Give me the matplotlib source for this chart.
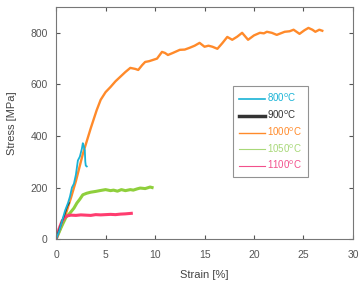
import numpy as np
import matplotlib.pyplot as plt

plt.rcParams['font.family'] = ['Liberation Sans', 'DejaVu Sans']

# strain [%] / stress [MPa]
strain_800 = [0, 0.3, 0.6, 0.9, 1.2, 1.4, 1.6, 1.8, 2.0, 2.2, 2.4, 2.6, 2.7, 2.8, 2.85, 2.9, 2.95, 3.0, 3.1]
stress_800 = [0, 30, 70, 110, 140, 165, 200, 215, 250, 305, 320, 350, 372, 360, 350, 345, 300, 285, 282]

strain_900 = [0, 0.3, 0.6, 0.9, 1.1, 1.3]
stress_900 = [0, 35, 70, 100, 125, 140]

strain_1000 = [0, 0.5, 1.0, 1.5, 2.0, 2.5, 2.7, 3.1, 3.5, 4.1, 4.5, 5.0, 5.5, 6.0, 6.5, 7.0, 7.5, 8.0, 8.3,
               8.7, 9.0, 9.4, 9.8, 10.2, 10.7, 11.0, 11.3, 11.8, 12.5, 13.0, 13.5, 14.0, 14.5, 15.0, 15.4,
               15.8, 16.3, 16.8, 17.3, 17.8, 18.3, 18.8, 19.4, 20.0, 20.6, 21.0, 21.3, 21.8, 22.3, 22.7,
               23.1, 23.6, 24.0, 24.6, 25.1, 25.5, 25.9, 26.2, 26.6, 26.9]
stress_1000 = [0, 45, 100, 160, 225, 300, 330, 380, 430, 500, 540, 570, 590, 612, 630, 648, 664, 660, 656,
               675, 687, 690, 695, 700, 726, 722, 714, 722, 734, 735, 742, 750, 761, 746, 750,
               746, 738, 760, 784, 773, 785, 800, 773, 790, 800, 798, 804, 800, 792, 798,
               804, 806, 812, 796, 810, 819, 812, 804, 812, 808]

strain_1050 = [0, 0.5, 1.0, 1.4, 1.8, 2.1, 2.4, 2.7, 3.1, 3.5, 4.0, 4.4, 5.0, 5.5, 5.8, 6.2, 6.6, 7.0,
               7.5, 7.8, 8.2, 8.5, 9.0, 9.5, 9.7]
stress_1050 = [0, 45, 85, 101, 120, 140, 155, 172, 178, 182, 185, 188, 192, 188, 190, 186, 192, 188,
               192, 190, 195, 198, 196, 202, 200]

strain_1100 = [0, 0.3, 0.6, 0.9, 1.1, 1.5, 2.0, 2.5, 3.0, 3.5, 4.0, 4.5, 5.0, 5.5, 6.0, 6.5, 7.0, 7.6]
stress_1100 = [0, 40, 70, 85, 90, 93, 92, 94, 93, 92, 95, 94, 95, 96, 95, 97, 98, 100]

labels = ['800$^{\\rm o}$C', '900$^{\\rm o}$C', '1000$^{\\rm o}$C', '1050$^{\\rm o}$C', '1100$^{\\rm o}$C']
colors = ['#19b3d6', '#333333', '#ff8a2a', '#8fcf3c', '#ff3d70']
leg_colors = ['#19b3d6', '#333333', '#ff8a2a', '#a8d878', '#f2508c']

fig = plt.figure(figsize=(3.62, 2.81), dpi=100)
ax = fig.add_axes([0.155, 0.149, 0.82, 0.826])

ax.plot(strain_1000, stress_1000, color=colors[2], lw=1.7)
ax.plot(strain_1050, stress_1050, color=colors[3], lw=2.2)
ax.plot(strain_1100, stress_1100, color=colors[4], lw=2.2)
ax.plot(strain_900, stress_900, color=colors[1], lw=1.2)
ax.plot(strain_800, stress_800, color=colors[0], lw=1.3)

ax.set_xlim(0, 30)
ax.set_ylim(0, 900)
ax.set_xticks(range(0, 31, 5))
ax.set_yticks(range(0, 801, 200))
ax.set_xlabel('Strain [%]', fontsize=8, color='#444444', labelpad=7)
ax.set_ylabel('Stress [MPa]', fontsize=8, color='#444444', labelpad=10)
ax.tick_params(direction='in', top=True, right=True, labelsize=7.5, colors='#555555', length=3)
ax.tick_params(axis='x', pad=8)
ax.tick_params(axis='y', pad=6)
for s in ax.spines.values():
    s.set_color('#777777')
    s.set_linewidth(0.8)

# legend with coloured text
handles = []
for c, lbl, w in zip(leg_colors, labels, [1.2, 2.5, 1.0, 0.8, 0.8]):
    h, = ax.plot([], [], color=c, lw=w, label=lbl)
    handles.append(h)
leg = ax.legend(handles=handles, loc='upper left', bbox_to_anchor=(0.58, 0.68), fontsize=7,
                handlelength=2.7, handletextpad=0.2, labelspacing=0.45, fancybox=False,
                edgecolor='#777777', borderpad=0.6, markerfirst=True)
leg.get_frame().set_linewidth(0.8)
for t, c in zip(leg.get_texts(), leg_colors):
    t.set_color(c)

fig.savefig('out.png', dpi=100)
